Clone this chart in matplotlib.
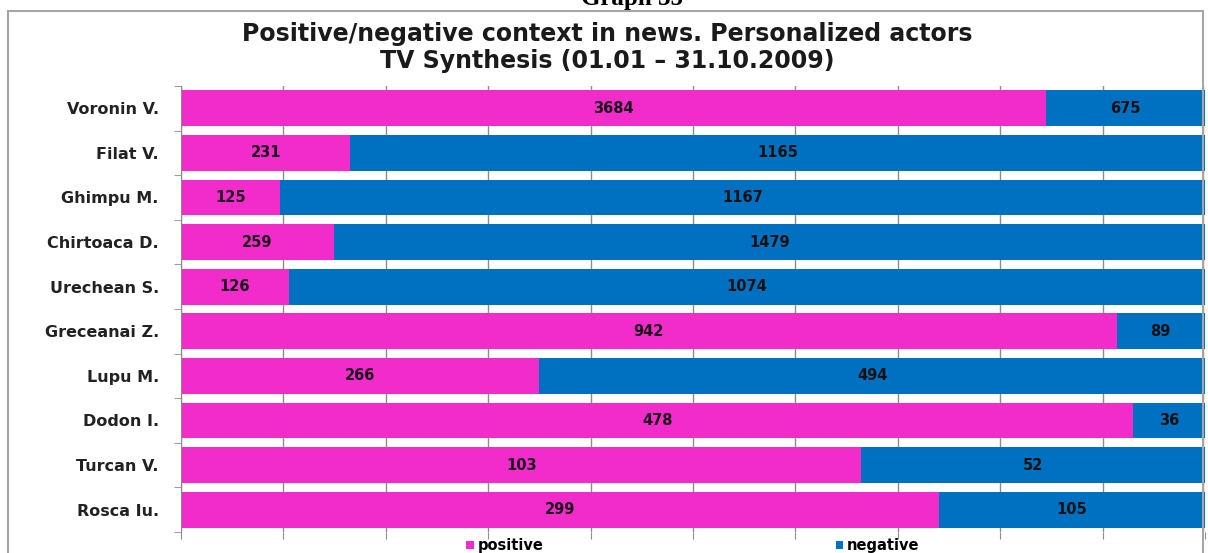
import numpy as np
from matplotlib import pyplot as plt
from matplotlib.patches import Rectangle

# dados
atores = ['Voronin V.', 'Filat V.', 'Ghimpu M.', 'Chirtoaca D.', 'Urechean S.',
          'Greceanai Z.', 'Lupu M.', 'Dodon I.', 'Turcan V.', 'Rosca Iu.']
positivo = np.array([3684, 231, 125, 259, 126, 942, 266, 478, 103, 299])
negativo = np.array([675, 1165, 1167, 1479, 1074, 89, 494, 36, 52, 105])

cor_pos = '#f22ccb'
cor_neg = '#0070c0'

total = positivo + negativo
p_pos = positivo / total * 100  # percentuais (barras 100%)
p_neg = negativo / total * 100

fig = plt.figure(figsize=(12.08, 5.53), dpi=100)
ax = fig.add_axes([181 / 1208, 1 - 532 / 553, 1024 / 1208, 446 / 553])

y = np.arange(len(atores))
ax.barh(y, p_pos, height=0.8, color=cor_pos, label='positive', zorder=2)
ax.barh(y, p_neg, left=p_pos, height=0.8, color=cor_neg, label='negative', zorder=2)

# rótulos de valores no meio de cada segmento
for i in range(len(atores)):
    ax.text(p_pos[i] / 2, y[i], str(positivo[i]), ha='center', va='center',
            fontsize=10.5, fontweight='bold', color='#1a0a1a', zorder=3)
    ax.text(p_pos[i] + p_neg[i] / 2, y[i], str(negativo[i]), ha='center', va='center',
            fontsize=10.5, fontweight='bold', color='#111111', zorder=3)

ax.set_xlim(0, 100)
ax.set_ylim(len(atores) - 0.5, -0.5)
ax.set_xticks(np.arange(0, 101, 10))
ax.set_xticklabels([])
ax.xaxis.grid(True, color='#8c8c8c', lw=1, zorder=0)
ax.set_axisbelow(True)
ax.tick_params(axis='x', length=5, color='#8c8c8c', direction='out')

ax.set_yticks(y)
ax.set_yticklabels(atores, fontsize=11.5, fontweight='bold', color='#222222')
ax.set_yticks(np.arange(-0.5, len(atores)), minor=True)
ax.tick_params(axis='y', which='major', length=0, pad=16)
ax.tick_params(axis='y', which='minor', length=5, color='#8c8c8c')

for lado in ['top', 'right', 'bottom']:
    ax.spines[lado].set_visible(False)
ax.spines['left'].set_color('#8c8c8c')

# título
fig.text(0.503, 1 - 34 / 553, 'Positive/negative context in news. Personalized actors',
         ha='center', va='center', fontsize=17, fontweight='bold', color='#1a1a1a')
fig.text(0.503, 1 - 61 / 553, 'TV Synthesis (01.01 \u2013 31.10.2009)',
         ha='center', va='center', fontsize=17, fontweight='bold', color='#1a1a1a')

# "Graph 35" cortado no topo
fig.text(0.523, 1 - 5 / 553, 'Graph 35', ha='center', va='baseline',
         fontsize=18, fontweight='bold', family='Liberation Serif')

# moldura do gráfico
fig.patches.append(Rectangle((8 / 1208, -0.05), 1195 / 1208, 1.05 - 11 / 553,
                             transform=fig.transFigure, fill=False,
                             edgecolor='#a6a6a6', lw=1.5))

ax.legend(loc='upper center', bbox_to_anchor=(0.5, 0.0), ncol=2, frameon=False,
          handlelength=0.5, handleheight=0.5, columnspacing=20, handletextpad=0.3,
          prop={'size': 10.5, 'weight': 'bold'}, borderaxespad=0)

fig.savefig('out.png', dpi=100)
